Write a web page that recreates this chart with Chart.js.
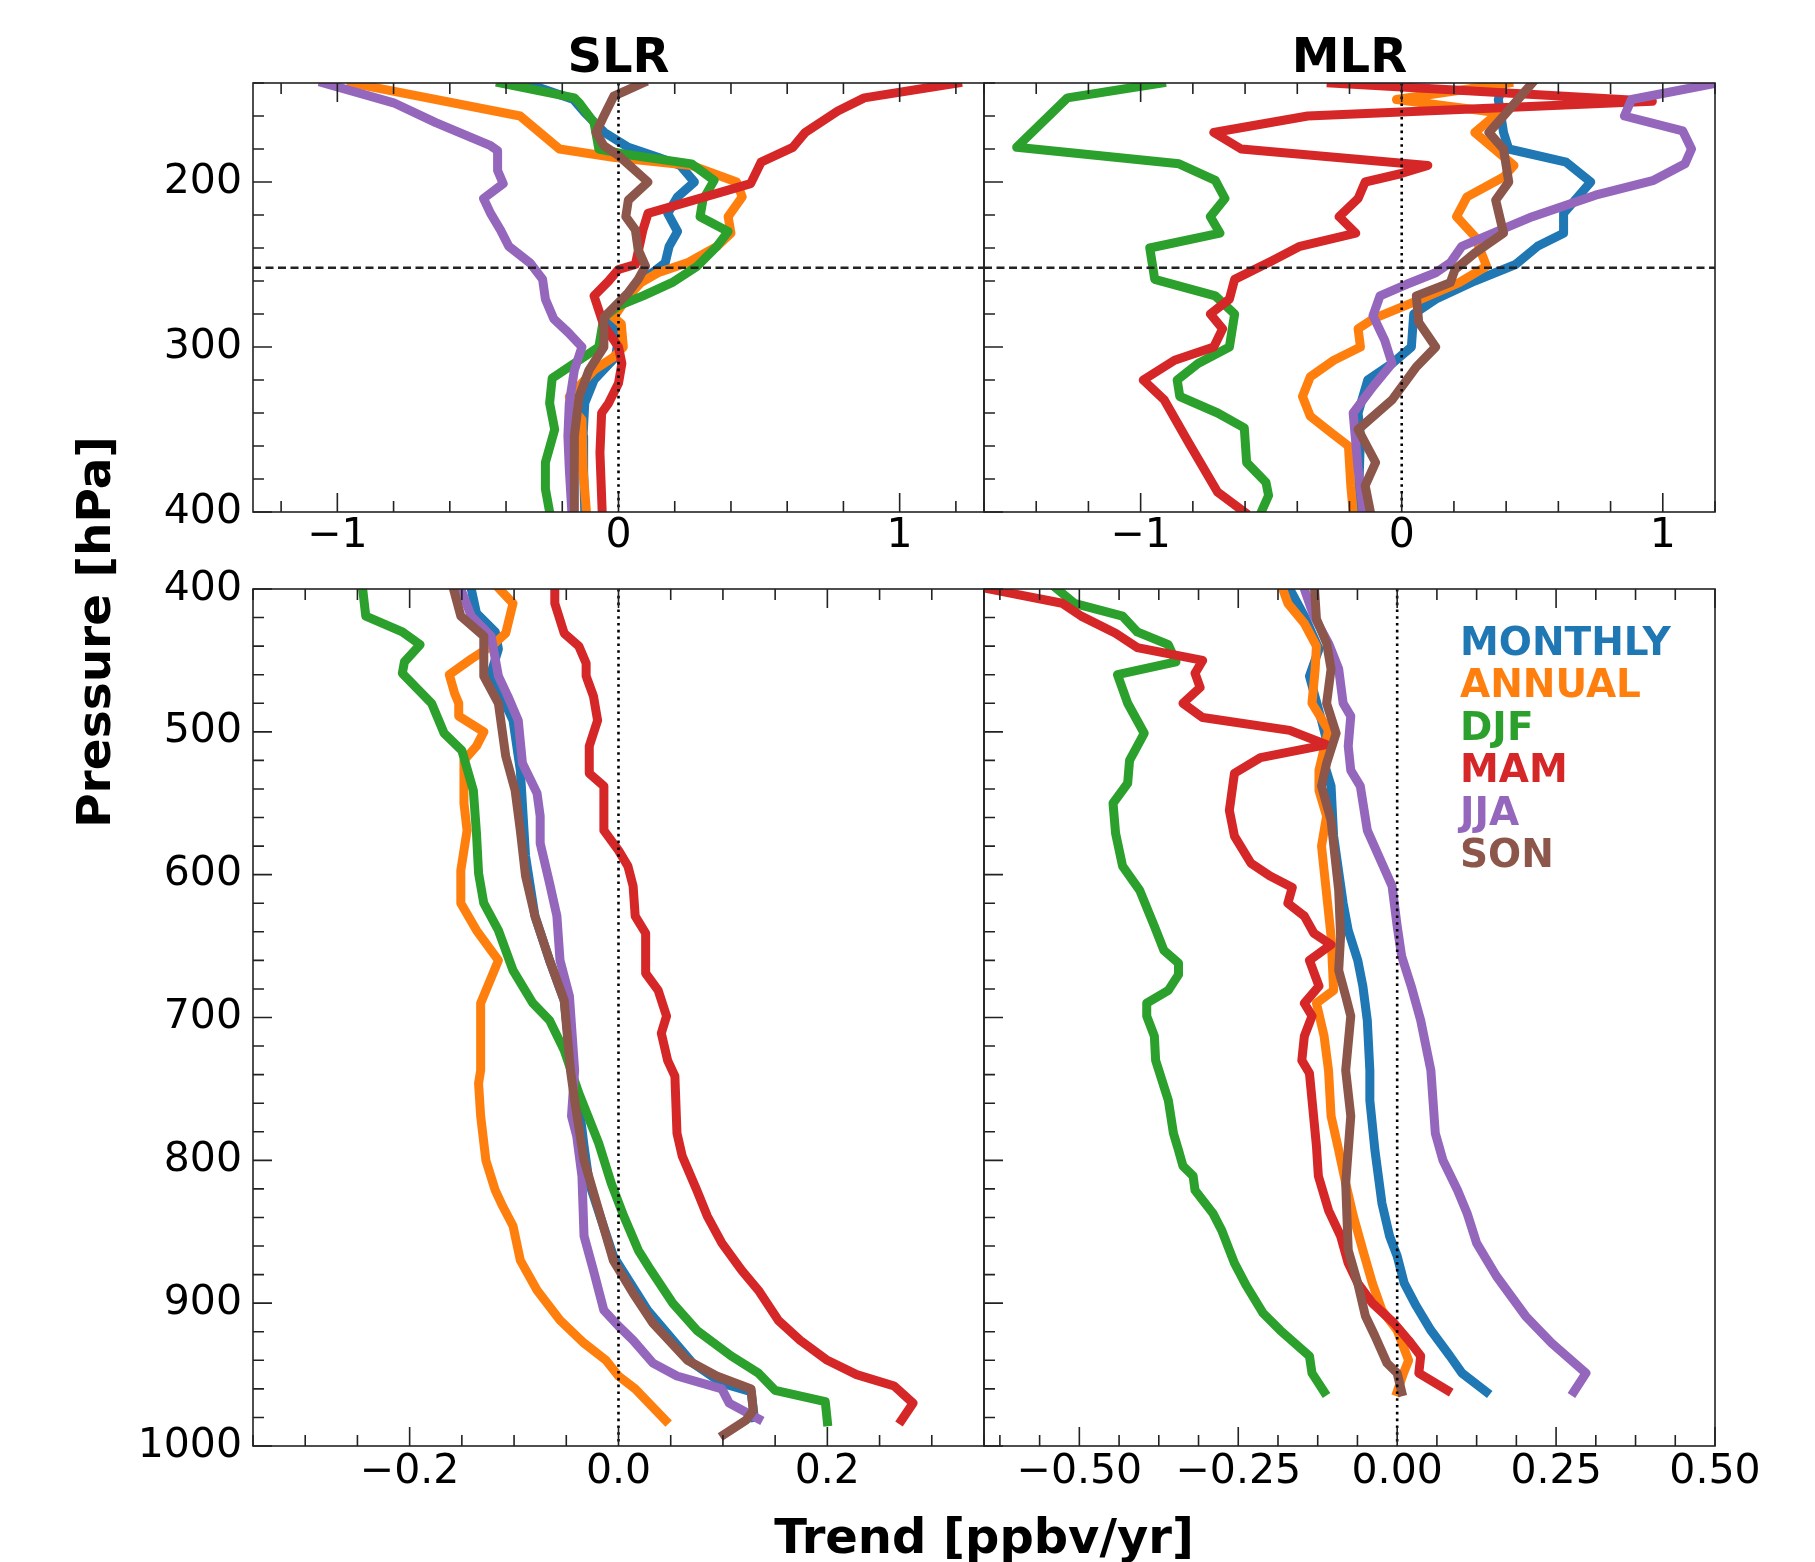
<!DOCTYPE html>
<html>
<head>
<meta charset="utf-8">
<script src="https://cdn.jsdelivr.net/npm/chart.js@4/dist/chart.umd.min.js"></script>
<style>
  body { margin: 0; background: #fff; }
  #wrap { position: relative; width: 1815px; height: 1562px; }
  #wrap canvas { position: absolute; left: 0; top: 0; }
</style>
</head>
<body>
<div id="wrap">
  <canvas id="slrUpper" width="1815" height="1562"></canvas>
  <canvas id="mlrUpper" width="1815" height="1562"></canvas>
  <canvas id="slrLower" width="1815" height="1562"></canvas>
  <canvas id="mlrLower" width="1815" height="1562"></canvas>
</div>
<script>
// series, drawn in this order (later ones on top)
const seriesNames = ["MONTHLY", "ANNUAL", "DJF", "MAM", "JJA", "SON"];
const seriesColors = ["#1f77b4", "#ff7f0e", "#2ca02c", "#d62728", "#9467bd", "#8c564b"];

// [trend ppbv/yr, pressure hPa]
// --- SLR, 140-400 hPa
const slrUpperMonthly = [[-0.33,140],[-0.16,150],[-0.12,158],[-0.05,170],[0.035,179],[0.14,185],[0.22,190],[0.27,200],[0.21,209],[0.175,219],[0.21,230],[0.18,239],[0.166,249],[0.12,255],[0.07,262],[0.035,269],[0.0,275],[-0.035,282],[0.0,294],[-0.01,306],[-0.087,320],[-0.12,334],[-0.126,354],[-0.124,375],[-0.12,400]];
const slrUpperAnnual = [[-0.95,140],[-0.35,160],[-0.21,180],[-0.02,185],[0.26,190],[0.42,200],[0.44,209],[0.39,221],[0.40,231],[0.35,239],[0.245,249],[0.14,255],[0.08,261],[0.035,269],[-0.017,282],[0.01,286],[0.017,300],[-0.017,306],[-0.087,314],[-0.175,330],[-0.16,338],[-0.13,344],[-0.126,374],[-0.114,400]];
const slrUpperDJF = [[-0.42,140],[-0.157,149],[-0.14,152],[-0.087,164],[-0.07,180],[0.017,183],[0.26,189],[0.34,199],[0.30,211],[0.29,221],[0.39,230],[0.35,239],[0.28,251],[0.19,261],[0.087,269],[0.0,275],[-0.052,282],[-0.07,300],[-0.236,319],[-0.245,334],[-0.227,350],[-0.26,370],[-0.26,386],[-0.245,400]];
const slrUpperMAM = [[1.206,140],[0.874,149],[0.78,157],[0.664,170],[0.62,179],[0.507,188],[0.47,201],[0.105,219],[0.087,229],[0.06,250],[0.0,253],[-0.035,260],[-0.087,269],[-0.052,287],[0.0,300],[0.012,310],[0.0,322],[-0.035,334],[-0.06,340],[-0.066,364],[-0.058,400]];
const slrUpperJJA = [[-1.05,140],[-0.80,152],[-0.65,164],[-0.455,178],[-0.43,181],[-0.43,193],[-0.41,201],[-0.48,210],[-0.455,219],[-0.42,229],[-0.39,239],[-0.315,249],[-0.27,259],[-0.26,271],[-0.23,283],[-0.18,291],[-0.13,300],[-0.157,314],[-0.175,334],[-0.18,354],[-0.175,374],[-0.166,400]];
const slrUpperSON = [[0.087,140],[-0.017,148],[-0.052,160],[-0.08,170],[-0.052,178],[0.0,184],[0.105,200],[0.035,211],[0.026,221],[0.06,229],[0.07,241],[0.096,251],[0.07,259],[0.035,267],[-0.052,282],[-0.052,300],[-0.105,314],[-0.14,330],[-0.157,354],[-0.157,400]];

// --- MLR, 140-400 hPa
const mlrUpperMonthly = [[0.39,140],[0.37,150],[0.38,160],[0.39,170],[0.41,180],[0.63,188],[0.724,200],[0.62,219],[0.62,231],[0.52,239],[0.436,250],[0.28,260],[0.13,271],[0.046,280],[0.037,300],[-0.037,310],[-0.13,320],[-0.167,340],[-0.158,354],[-0.167,400]];
const mlrUpperAnnual = [[0.41,140],[-0.02,150],[0.37,158],[0.28,170],[0.43,190],[0.39,197],[0.25,209],[0.21,221],[0.28,233],[0.325,251],[0.22,261],[0.074,271],[-0.11,283],[-0.167,289],[-0.158,300],[-0.26,308],[-0.35,318],[-0.38,330],[-0.35,342],[-0.27,352],[-0.204,360],[-0.195,384],[-0.186,400]];
const mlrUpperDJF = [[-0.92,140],[-1.28,149],[-1.475,179],[-0.853,189],[-0.714,199],[-0.677,210],[-0.733,221],[-0.696,231],[-0.965,240],[-0.946,259],[-0.714,269],[-0.64,280],[-0.66,300],[-0.78,310],[-0.86,320],[-0.85,330],[-0.705,340],[-0.603,349],[-0.594,370],[-0.52,382],[-0.51,390],[-0.538,400]];
const mlrUpperMAM = [[-0.27,140],[0.96,151],[-0.36,160],[-0.72,170],[-0.615,180],[0.10,190],[-0.005,195],[-0.14,200],[-0.167,210],[-0.24,221],[-0.176,231],[-0.39,239],[-0.50,248],[-0.64,259],[-0.66,271],[-0.733,280],[-0.686,289],[-0.72,300],[-0.87,308],[-0.99,320],[-0.91,332],[-0.816,358],[-0.705,388],[-0.603,400]];
const mlrUpperJJA = [[1.206,140],[0.88,150],[0.853,160],[1.076,169],[1.11,180],[1.085,189],[0.965,199],[0.742,208],[0.50,221],[0.35,231],[0.23,239],[0.186,249],[0.13,255],[0.019,262],[-0.083,269],[-0.11,281],[-0.065,296],[-0.037,310],[-0.11,324],[-0.186,340],[-0.167,374],[-0.148,400]];
const mlrUpperSON = [[0.50,140],[0.445,150],[0.39,160],[0.334,170],[0.39,180],[0.41,200],[0.36,211],[0.39,231],[0.28,243],[0.204,253],[0.186,261],[0.056,269],[0.065,285],[0.13,300],[0.056,312],[-0.037,332],[-0.167,350],[-0.10,370],[-0.14,384],[-0.12,400]];

// --- SLR, 400-1000 hPa
const slrLowerMonthly = [[-0.141,400],[-0.136,417],[-0.118,430],[-0.115,442],[-0.122,459],[-0.101,492],[-0.094,527],[-0.089,587],[-0.08,629],[-0.066,660],[-0.052,688],[-0.045,737],[-0.038,760],[-0.033,790],[-0.028,816],[-0.005,867],[0.028,905],[0.071,942],[0.099,956],[0.127,962],[0.13,980]];
const slrLowerAnnual = [[-0.114,400],[-0.101,410],[-0.108,431],[-0.12,439],[-0.141,449],[-0.162,460],[-0.157,473],[-0.153,480],[-0.153,489],[-0.129,500],[-0.136,510],[-0.148,520],[-0.148,550],[-0.145,569],[-0.151,597],[-0.151,620],[-0.136,639],[-0.115,660],[-0.132,690],[-0.132,709],[-0.132,737],[-0.134,746],[-0.132,769],[-0.127,800],[-0.118,821],[-0.111,832],[-0.101,846],[-0.094,870],[-0.078,891],[-0.056,912],[-0.033,928],[-0.012,940],[0.0,951],[0.016,960],[0.045,982]];
const slrLowerDJF = [[-0.245,400],[-0.242,419],[-0.207,430],[-0.19,439],[-0.205,451],[-0.207,459],[-0.179,480],[-0.167,501],[-0.15,513],[-0.139,541],[-0.136,571],[-0.134,599],[-0.129,620],[-0.115,639],[-0.101,667],[-0.082,690],[-0.066,702],[-0.052,723],[-0.038,753],[-0.019,788],[-0.007,816],[0.005,839],[0.019,863],[0.031,877],[0.052,900],[0.075,919],[0.108,937],[0.134,949],[0.15,961],[0.198,969],[0.2,983]];
const slrLowerMAM = [[-0.061,400],[-0.061,410],[-0.052,431],[-0.038,440],[-0.031,452],[-0.031,461],[-0.024,475],[-0.02,492],[-0.028,510],[-0.028,529],[-0.014,538],[-0.014,569],[0.0,583],[0.009,594],[0.014,608],[0.016,629],[0.026,641],[0.026,669],[0.038,681],[0.046,699],[0.041,711],[0.047,730],[0.054,741],[0.056,781],[0.061,797],[0.075,821],[0.085,839],[0.099,858],[0.118,877],[0.134,891],[0.153,912],[0.174,926],[0.2,940],[0.228,950],[0.264,958],[0.282,970],[0.271,982]];
const slrLowerJJA = [[-0.151,400],[-0.141,419],[-0.122,433],[-0.115,461],[-0.106,475],[-0.096,492],[-0.092,522],[-0.078,543],[-0.075,559],[-0.075,578],[-0.066,606],[-0.059,629],[-0.056,660],[-0.047,685],[-0.042,737],[-0.045,769],[-0.04,783],[-0.035,811],[-0.033,853],[-0.024,877],[-0.014,905],[0.0,916],[0.014,926],[0.033,942],[0.056,951],[0.099,960],[0.106,970],[0.134,981]];
const slrLowerSON = [[-0.158,400],[-0.151,419],[-0.129,433],[-0.129,461],[-0.115,480],[-0.108,517],[-0.099,541],[-0.094,569],[-0.089,601],[-0.08,629],[-0.066,660],[-0.052,688],[-0.046,737],[-0.042,758],[-0.033,800],[-0.019,835],[-0.005,870],[0.014,893],[0.033,914],[0.066,940],[0.094,951],[0.127,960],[0.129,975],[0.122,982],[0.101,992]];

// --- MLR, 400-1000 hPa
const mlrLowerMonthly = [[-0.169,400],[-0.146,419],[-0.123,442],[-0.138,461],[-0.119,492],[-0.111,506],[-0.115,522],[-0.104,538],[-0.1,573],[-0.085,620],[-0.077,639],[-0.062,660],[-0.054,678],[-0.047,702],[-0.043,737],[-0.043,758],[-0.035,793],[-0.024,830],[-0.012,853],[0.0,867],[0.011,886],[0.03,902],[0.053,919],[0.083,937],[0.102,949],[0.14,962]];
const mlrLowerAnnual = [[-0.18,400],[-0.172,410],[-0.146,424],[-0.127,440],[-0.129,456],[-0.134,480],[-0.108,499],[-0.123,527],[-0.123,541],[-0.111,559],[-0.119,580],[-0.115,597],[-0.104,643],[-0.1,681],[-0.127,690],[-0.115,713],[-0.108,737],[-0.104,769],[-0.092,793],[-0.081,816],[-0.069,839],[-0.054,863],[-0.039,886],[-0.024,905],[0.0,919],[0.018,940],[0.01,949],[0.0,962]];
const mlrLowerDJF = [[-0.535,400],[-0.508,410],[-0.432,419],[-0.409,430],[-0.36,439],[-0.348,451],[-0.44,460],[-0.424,480],[-0.398,501],[-0.421,520],[-0.424,536],[-0.447,550],[-0.443,571],[-0.432,594],[-0.405,611],[-0.382,636],[-0.367,653],[-0.344,662],[-0.344,670],[-0.36,681],[-0.394,690],[-0.394,699],[-0.382,713],[-0.38,730],[-0.36,758],[-0.352,781],[-0.344,793],[-0.337,804],[-0.321,811],[-0.318,821],[-0.29,837],[-0.276,849],[-0.256,872],[-0.237,888],[-0.211,907],[-0.184,919],[-0.138,937],[-0.134,949],[-0.115,962]];
const mlrLowerMAM = [[-0.642,400],[-0.527,410],[-0.497,419],[-0.443,431],[-0.409,441],[-0.306,450],[-0.318,459],[-0.31,469],[-0.337,480],[-0.306,490],[-0.169,499],[-0.111,509],[-0.215,518],[-0.256,529],[-0.264,555],[-0.256,573],[-0.23,592],[-0.2,601],[-0.165,609],[-0.172,620],[-0.146,629],[-0.131,641],[-0.104,649],[-0.138,660],[-0.123,678],[-0.146,690],[-0.134,699],[-0.146,713],[-0.15,730],[-0.138,739],[-0.127,790],[-0.124,811],[-0.108,835],[-0.089,853],[-0.077,872],[-0.062,886],[-0.039,900],[-0.005,914],[0.018,926],[0.037,937],[0.034,949],[0.079,961]];
const mlrLowerJJA = [[-0.146,400],[-0.131,419],[-0.108,438],[-0.092,456],[-0.085,480],[-0.073,489],[-0.077,510],[-0.073,527],[-0.058,538],[-0.047,569],[-0.024,592],[-0.008,608],[0.0,636],[0.007,657],[0.022,678],[0.037,702],[0.053,737],[0.06,781],[0.072,800],[0.095,821],[0.11,837],[0.125,858],[0.156,881],[0.202,909],[0.243,928],[0.297,949],[0.278,962]];
const mlrLowerSON = [[-0.13,400],[-0.127,421],[-0.111,438],[-0.104,456],[-0.111,480],[-0.096,501],[-0.111,522],[-0.119,538],[-0.104,562],[-0.092,611],[-0.089,643],[-0.092,667],[-0.081,685],[-0.073,699],[-0.081,737],[-0.073,769],[-0.081,816],[-0.077,863],[-0.062,886],[-0.05,909],[-0.035,923],[-0.016,942],[0.0,949],[0.007,962]];

// axis ranges and tick steps
const upperPressure = [140, 400];
const lowerPressure = [400, 1000];
const slrUpperTrend = [-1.3, 1.3];
const mlrUpperTrend = [-1.6, 1.2];
const slrLowerTrend = [-0.35, 0.35];
const mlrLowerTrend = [-0.65, 0.5];
const tropopause = 252;

const FONT = "DejaVu Sans";
const W = 1815, H = 1562;

// plot areas in page pixels
const areas = {
  slrUpper: { left: 253, right: 984, top: 83, bottom: 512 },
  mlrUpper: { left: 984, right: 1715, top: 83, bottom: 512 },
  slrLower: { left: 253, right: 984, top: 589, bottom: 1446 },
  mlrLower: { left: 984, right: 1715, top: 589, bottom: 1446 },
};

const minusFmt = (d) => (v) => (v < 0 ? "\u2212" : "") + Math.abs(v).toFixed(d);

// matplotlib-like frame, inward ticks, zero line, legend and figure text
const panelDecor = {
  id: "panelDecor",
  afterDatasetsDraw(chart, args, opts) {
    const { ctx, chartArea: a } = chart;
    const xs = chart.scales.x, ys = chart.scales.y;
    ctx.save();

    const x0 = xs.getPixelForValue(0);
    ctx.strokeStyle = "#000";
    ctx.lineWidth = 2.6;
    ctx.setLineDash([2.6, 4.2]);
    ctx.beginPath();
    ctx.moveTo(x0, a.top);
    ctx.lineTo(x0, a.bottom);
    ctx.stroke();

    if (opts.dashedAt != null) {
      const yd = ys.getPixelForValue(opts.dashedAt);
      ctx.strokeStyle = "#222";
      ctx.lineWidth = 2.4;
      ctx.setLineDash([8, 4.5]);
      ctx.beginPath();
      ctx.moveTo(a.left, yd);
      ctx.lineTo(a.right, yd);
      ctx.stroke();
    }
    ctx.setLineDash([]);

    ctx.strokeStyle = "#222";
    ctx.lineWidth = 1.6;
    ctx.strokeRect(a.left, a.top, a.right - a.left, a.bottom - a.top);

    const isMajor = (v, step) => Math.abs(v / step - Math.round(v / step)) < 1e-6;
    ctx.beginPath();
    for (let k = Math.ceil(xs.min / opts.xMinor - 1e-9); k * opts.xMinor <= xs.max + 1e-9; k++) {
      const v = k * opts.xMinor;
      const px = xs.getPixelForValue(v);
      const len = isMajor(v, opts.xMajor) ? 19 : 11;
      ctx.moveTo(px, a.bottom); ctx.lineTo(px, a.bottom - len);
      ctx.moveTo(px, a.top); ctx.lineTo(px, a.top + len);
    }
    for (let k = Math.ceil(ys.min / opts.yMinor - 1e-9); k * opts.yMinor <= ys.max + 1e-9; k++) {
      const v = k * opts.yMinor;
      const py = ys.getPixelForValue(v);
      const len = isMajor(v, opts.yMajor) ? 19 : 11;
      ctx.moveTo(a.left, py); ctx.lineTo(a.left + len, py);
    }
    ctx.stroke();

    if (opts.title) {
      ctx.fillStyle = "#000";
      ctx.font = "bold 48px '" + FONT + "'";
      ctx.textAlign = "center";
      ctx.textBaseline = "alphabetic";
      ctx.fillText(opts.title, (a.left + a.right) / 2, a.top - 11.5);
    }

    if (opts.legend) {
      ctx.font = "bold 39px '" + FONT + "'";
      ctx.textAlign = "left";
      ctx.textBaseline = "alphabetic";
      chart.data.datasets.forEach((ds, i) => {
        ctx.fillStyle = ds.borderColor;
        ctx.fillText(ds.label, a.left + 476, a.top + 66 + i * 42.4);
      });
    }

    if (opts.axisTitles) {
      ctx.fillStyle = "#000";
      ctx.font = "bold 48px '" + FONT + "'";
      ctx.textAlign = "center";
      ctx.textBaseline = "alphabetic";
      ctx.fillText("Trend [ppbv/yr]", 984, 1553);
      ctx.save();
      ctx.translate(110, 632);
      ctx.rotate(-Math.PI / 2);
      ctx.font = "bold 47px '" + FONT + "'";
      ctx.fillText("Pressure [hPa]", 0, 0);
      ctx.restore();
    }
    ctx.restore();
  },
};

const makePanel = (id, series, trendRange, trendStep, trendDigits, pRange, showY, decor) => {
  const area = areas[id];
  const yWidth = showY ? 130 : 20;
  const xHeight = 60;
  const tickFont = { family: FONT, size: 41 };
  new Chart(document.getElementById(id), {
    type: "scatter",
    data: {
      datasets: series.map((pts, i) => ({
        label: seriesNames[i],
        data: pts.map(([t, p]) => ({ x: t, y: p })),
        showLine: true,
        borderColor: seriesColors[i],
        backgroundColor: seriesColors[i],
        borderWidth: 9,
        borderJoinStyle: "round",
        borderCapStyle: "square",
        pointRadius: 0,
        tension: 0,
        clip: 0,
        order: series.length - 1 - i,
      })),
    },
    options: {
      responsive: false,
      animation: false,
      devicePixelRatio: 1,
      events: [],
      layout: {
        padding: {
          left: area.left - yWidth,
          right: W - area.right,
          top: area.top,
          bottom: H - area.bottom - xHeight,
        },
      },
      plugins: {
        legend: { display: false },
        tooltip: { enabled: false },
        panelDecor: decor,
      },
      scales: {
        x: {
          type: "linear",
          min: trendRange[0],
          max: trendRange[1],
          grid: { display: false, drawTicks: false },
          border: { display: false },
          ticks: {
            stepSize: trendStep,
            includeBounds: false,
            autoSkip: false,
            maxRotation: 0,
            padding: pRange[0] < 400 ? 0 : 1.5,
            color: "#000",
            font: tickFont,
            callback: minusFmt(trendDigits),
          },
          afterFit: (s) => { s.height = xHeight; },
        },
        y: {
          type: "linear",
          reverse: true,
          min: pRange[0],
          max: pRange[1],
          grid: { display: false, drawTicks: false },
          border: { display: false },
          ticks: {
            display: showY,
            stepSize: 100,
            includeBounds: false,
            autoSkip: false,
            padding: 11,
            color: "#000",
            font: tickFont,
            callback: (v) => String(v),
          },
          afterFit: (s) => { s.width = yWidth; },
        },
      },
    },
    plugins: [panelDecor],
  });
};

makePanel("slrUpper",
  [slrUpperMonthly, slrUpperAnnual, slrUpperDJF, slrUpperMAM, slrUpperJJA, slrUpperSON],
  slrUpperTrend, 1, 0, upperPressure, true,
  { xMinor: 0.2, xMajor: 1, yMinor: 20, yMajor: 100, dashedAt: tropopause, title: "SLR" });

makePanel("mlrUpper",
  [mlrUpperMonthly, mlrUpperAnnual, mlrUpperDJF, mlrUpperMAM, mlrUpperJJA, mlrUpperSON],
  mlrUpperTrend, 1, 0, upperPressure, false,
  { xMinor: 0.2, xMajor: 1, yMinor: 20, yMajor: 100, dashedAt: tropopause, title: "MLR" });

makePanel("slrLower",
  [slrLowerMonthly, slrLowerAnnual, slrLowerDJF, slrLowerMAM, slrLowerJJA, slrLowerSON],
  slrLowerTrend, 0.2, 1, lowerPressure, true,
  { xMinor: 0.05, xMajor: 0.2, yMinor: 20, yMajor: 100, axisTitles: true });

makePanel("mlrLower",
  [mlrLowerMonthly, mlrLowerAnnual, mlrLowerDJF, mlrLowerMAM, mlrLowerJJA, mlrLowerSON],
  mlrLowerTrend, 0.25, 2, lowerPressure, false,
  { xMinor: 0.0625, xMajor: 0.25, yMinor: 20, yMajor: 100, legend: true });
</script>
</body>
</html>
